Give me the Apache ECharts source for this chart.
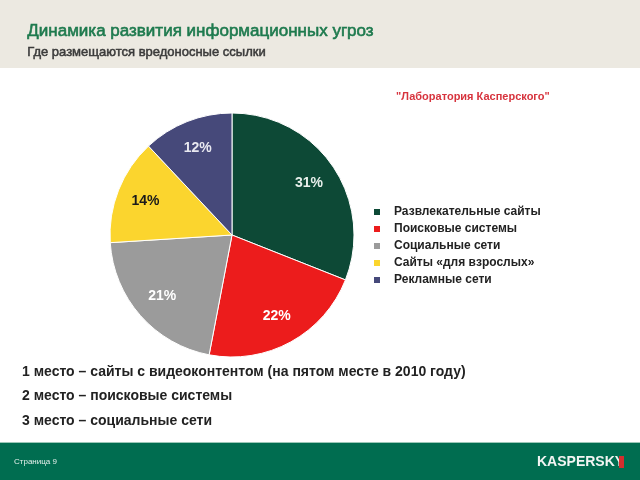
<!DOCTYPE html>
<html><head><meta charset="utf-8">
<script src="https://cdn.jsdelivr.net/npm/echarts@6/dist/echarts.min.js"></script>
<style>html,body{margin:0;padding:0;background:#fff}#c{width:640px;height:480px}</style>
</head><body><div id="c"></div>
<script>
const categories = ['Развлекательные сайты','Поисковые системы','Социальные сети','Сайты «для взрослых»','Рекламные сети'];
const values = [31, 22, 21, 14, 12];
const colors = ['#0D4936','#EC1C1C','#9B9B9B','#FBD52E','#46497A'];
const labelColors = ['#E8F0EC','#FFFFFF','#FFFFFF','#1A1A1A','#E8E8F0'];
const title = 'Динамика развития информационных угроз';
const subtitle = 'Где размещаются вредоносные ссылки';
const source = '"Лаборатория Касперского"';
const notes = ['1 место – сайты с видеоконтентом (на пятом месте в 2010 году)','2 место – поисковые системы','3 место – социальные сети'];

const chart = echarts.init(document.getElementById('c'), null, {renderer:'canvas'});
const font = '"Liberation Sans", Arial, sans-serif';
const pieData = categories.map((n,i)=>({name:n, value:values[i], itemStyle:{color:colors[i]}}));
const labelData = categories.map((n,i)=>({name:n, value:values[i], itemStyle:{color:'rgba(0,0,0,0)'},
  label:{color:labelColors[i]}}));
chart.setOption({
  backgroundColor:'#ffffff',
  animation:false,
  legend:{
    orient:'vertical', left:372, top:206, padding:0, icon:'rect', itemWidth:8, itemHeight:8, itemGap:5,
    data:categories,
    textStyle:{fontFamily:font, fontWeight:'bold', fontSize:12, color:'#222', lineHeight:12, padding:[0,0,0,8]}
  },
  graphic:[
    {type:'rect', shape:{x:0,y:0,width:640,height:68}, style:{fill:'#ECE9E1'}, z:-10},
    {type:'text', left:27, top:23, style:{text:title, font:'17px '+font, fill:'#1E7A4E', stroke:'#1E7A4E', lineWidth:0.6}},
    {type:'text', left:27, top:46, style:{text:subtitle, font:'13px '+font, fill:'#3A3A3A', stroke:'#3A3A3A', lineWidth:0.5}},
    {type:'text', left:396, top:91, style:{text:source, font:'bold 11px '+font, fill:'#D7343E'}},
    {type:'text', left:22, top:365, style:{text:notes[0], font:'bold 14px '+font, fill:'#222'}},
    {type:'text', left:22, top:389, style:{text:notes[1], font:'bold 14px '+font, fill:'#222'}},
    {type:'text', left:22, top:414, style:{text:notes[2], font:'bold 14px '+font, fill:'#222'}},
    {type:'rect', shape:{x:0,y:443,width:640,height:37}, style:{fill:'#006D50'}, z:-10},
    {type:'rect', shape:{x:0,y:442,width:640,height:1}, style:{fill:'#9CC8B8'}, z:-10},
    {type:'text', left:14, top:458, style:{text:'Страница 9', font:'8px '+font, fill:'#E6F0EC'}},
    {type:'text', left:537, top:455, style:{text:'KASPERSKY', font:'bold 14px '+font, fill:'#F2F5F3'}},
    {type:'rect', shape:{x:619,y:456,width:5,height:12}, style:{fill:'#D42E2E'}}
  ],
  series:[
    {type:'pie', center:[232,235], radius:[0,122], startAngle:90, clockwise:true,
     silent:true, label:{show:false}, labelLine:{show:false},
     itemStyle:{borderColor:'#ffffff', borderWidth:1},
     data:pieData},
    {type:'pie', center:[232,235], radius:[56,124], startAngle:90, clockwise:true,
     silent:true, legendHoverLink:false,
     label:{show:true, position:'inside', formatter:'{c}%', fontFamily:font, fontWeight:'bold', fontSize:14},
     labelLine:{show:false},
     data:labelData}
  ]
});
</script></body></html>
